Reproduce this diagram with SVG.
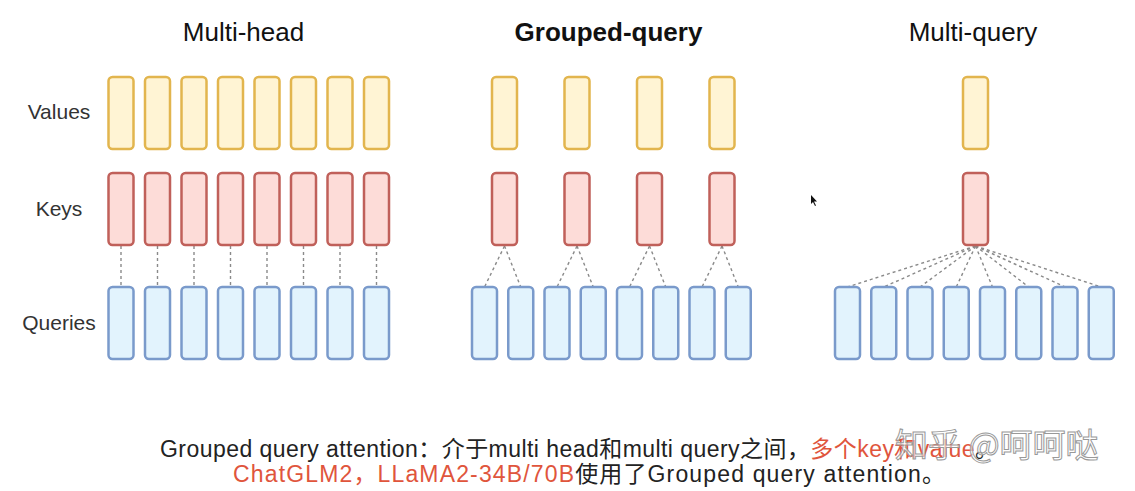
<svg xmlns="http://www.w3.org/2000/svg" width="1135" height="491" viewBox="0 0 1135 491">
<style>
.t{font-family:"Liberation Sans",Arial,sans-serif;font-size:26px;fill:#111;text-anchor:middle}
.b{font-weight:bold}
.lab{font-family:"Liberation Sans",Arial,sans-serif;font-size:21px;fill:#333;text-anchor:middle}
.v{fill:#FFF4D4;stroke:#E2B54E;stroke-width:2.5}
.k{fill:#FDDCD8;stroke:#C0605A;stroke-width:2.5}
.q{fill:#E2F3FD;stroke:#7A9ACB;stroke-width:2.5}
.c line{stroke:#8a8a8a;stroke-width:1.4;stroke-dasharray:3 3}
.cap{font-family:"Liberation Sans","Noto Sans CJK SC",sans-serif;font-size:23px;fill:#222}
.red{fill:#E0553C}
.wm{font-family:"Noto Sans CJK SC",sans-serif;font-size:33px;fill:#fff;fill-opacity:0.6;stroke:#999;stroke-width:1}
</style>
<defs>
<rect id="bar" width="25" height="72" rx="4"/>
</defs>
<rect width="1135" height="491" fill="#fff"/>
<g id="titles">
<text class="t" x="243.5" y="41">Multi-head</text>
<text class="t b" x="608.5" y="41">Grouped-query</text>
<text class="t" x="973" y="41">Multi-query</text>
</g>
<g id="row-labels">
<text class="lab" x="59" y="119">Values</text>
<text class="lab" x="59" y="216">Keys</text>
<text class="lab" x="59" y="330">Queries</text>
</g>
<g id="connectors" class="c">
<line x1="121" y1="246" x2="121" y2="287"/>
<line x1="157.5" y1="246" x2="157.5" y2="287"/>
<line x1="194" y1="246" x2="194" y2="287"/>
<line x1="230.5" y1="246" x2="230.5" y2="287"/>
<line x1="267" y1="246" x2="267" y2="287"/>
<line x1="303.5" y1="246" x2="303.5" y2="287"/>
<line x1="340" y1="246" x2="340" y2="287"/>
<line x1="376.5" y1="246" x2="376.5" y2="287"/>
<line x1="504.5" y1="246" x2="484.5" y2="287"/>
<line x1="504.5" y1="246" x2="520.75" y2="287"/>
<line x1="577" y1="246" x2="557" y2="287"/>
<line x1="577" y1="246" x2="593.25" y2="287"/>
<line x1="649.5" y1="246" x2="629.5" y2="287"/>
<line x1="649.5" y1="246" x2="665.75" y2="287"/>
<line x1="722" y1="246" x2="702" y2="287"/>
<line x1="722" y1="246" x2="738.25" y2="287"/>
<line x1="975.5" y1="246" x2="847.5" y2="287"/>
<line x1="975.5" y1="246" x2="883.75" y2="287"/>
<line x1="975.5" y1="246" x2="920" y2="287"/>
<line x1="975.5" y1="246" x2="956.25" y2="287"/>
<line x1="975.5" y1="246" x2="992.5" y2="287"/>
<line x1="975.5" y1="246" x2="1028.75" y2="287"/>
<line x1="975.5" y1="246" x2="1065" y2="287"/>
<line x1="975.5" y1="246" x2="1101.25" y2="287"/>
</g>
<g id="multi-head">
<g class="v">
<use href="#bar" x="108.5" y="77"/><use href="#bar" x="145" y="77"/><use href="#bar" x="181.5" y="77"/><use href="#bar" x="218" y="77"/>
<use href="#bar" x="254.5" y="77"/><use href="#bar" x="291" y="77"/><use href="#bar" x="327.5" y="77"/><use href="#bar" x="364" y="77"/>
</g>
<g class="k">
<use href="#bar" x="108.5" y="173"/><use href="#bar" x="145" y="173"/><use href="#bar" x="181.5" y="173"/><use href="#bar" x="218" y="173"/>
<use href="#bar" x="254.5" y="173"/><use href="#bar" x="291" y="173"/><use href="#bar" x="327.5" y="173"/><use href="#bar" x="364" y="173"/>
</g>
<g class="q">
<use href="#bar" x="108.5" y="287"/><use href="#bar" x="145" y="287"/><use href="#bar" x="181.5" y="287"/><use href="#bar" x="218" y="287"/>
<use href="#bar" x="254.5" y="287"/><use href="#bar" x="291" y="287"/><use href="#bar" x="327.5" y="287"/><use href="#bar" x="364" y="287"/>
</g>
</g>
<g id="grouped-query">
<g class="v">
<use href="#bar" x="492" y="77"/><use href="#bar" x="564.5" y="77"/><use href="#bar" x="637" y="77"/><use href="#bar" x="709.5" y="77"/>
</g>
<g class="k">
<use href="#bar" x="492" y="173"/><use href="#bar" x="564.5" y="173"/><use href="#bar" x="637" y="173"/><use href="#bar" x="709.5" y="173"/>
</g>
<g class="q">
<use href="#bar" x="472" y="287"/><use href="#bar" x="508.25" y="287"/><use href="#bar" x="544.5" y="287"/><use href="#bar" x="580.75" y="287"/>
<use href="#bar" x="617" y="287"/><use href="#bar" x="653.25" y="287"/><use href="#bar" x="689.5" y="287"/><use href="#bar" x="725.75" y="287"/>
</g>
</g>
<g id="multi-query">
<use class="v" href="#bar" x="963" y="77"/>
<use class="k" href="#bar" x="963" y="173"/>
<g class="q">
<use href="#bar" x="835" y="287"/><use href="#bar" x="871.25" y="287"/><use href="#bar" x="907.5" y="287"/><use href="#bar" x="943.75" y="287"/>
<use href="#bar" x="980" y="287"/><use href="#bar" x="1016.25" y="287"/><use href="#bar" x="1052.5" y="287"/><use href="#bar" x="1088.75" y="287"/>
</g>
</g>
<polygon id="cursor" points="811,195 811,204 813,202 815,206 816,205.5 814,201.5 817,201.5" fill="#111"/>
<g id="caption">
<text class="cap" x="160" y="457" textLength="838" lengthAdjust="spacing">Grouped query attention：介于multi head和multi query之间，<tspan class="red">多个key和value</tspan>。</text>
<text class="cap" x="233" y="482" textLength="712" lengthAdjust="spacing"><tspan class="red">ChatGLM2，LLaMA2-34B/70B</tspan>使用了Grouped query attention。</text>
</g>
<text class="wm" x="895" y="457">知乎 @呵呵哒</text>
</svg>
